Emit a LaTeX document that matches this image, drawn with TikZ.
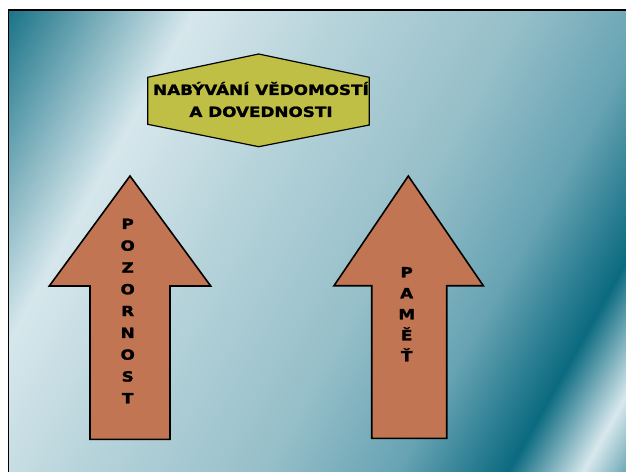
\documentclass[tikz,border=0pt]{standalone}
\usepackage{fontspec}
\newfontfamily\slidefont[FakeStretch=1.2, BoldFeatures={FakeBold=1.6}]{DejaVu Sans}
\usepackage{xcolor}
\definecolor{xteal}{HTML}{0B6A80}
\definecolor{xlight}{HTML}{D6E7EC}
\definecolor{xmist}{HTML}{B6D3DA}
\definecolor{xsea}{HTML}{96BFC9}
\definecolor{xdeep}{HTML}{67A3B3}
\definecolor{xstreak}{HTML}{D8E8ED}
\definecolor{xcorner}{HTML}{4E95A5}
\definecolor{xolive}{HTML}{BFBF45}
\definecolor{xbrick}{HTML}{C17552}
\usepackage{tikz}
\usetikzlibrary{calc}
% slide backdrop, stops at 25bp + 50bp*p/780
\pgfdeclarehorizontalshading{backdrop}{100bp}{
  color(0bp)=(xteal); color(25bp)=(xteal); color(36.2bp)=(xlight);
  color(44.5bp)=(xmist); color(54.5bp)=(xsea); color(62bp)=(xdeep);
  color(68.2bp)=(xteal); color(72.4bp)=(xstreak); color(75.5bp)=(xcorner);
  color(100bp)=(xcorner)}
\tikzset{
  %% Styles %%
  slideframe/.style = {draw=black, line width=1.6pt},
  banner/.style = {fill=xolive, draw=black, line width=1.2pt, line join=miter},
  bigarrow/.style = {fill=xbrick, draw=black, line width=1.6pt, line join=miter},
  caption/.style = {font=\slidefont\bfseries\fontsize{14}{22}\selectfont, align=center, inner sep=0pt},
  letters/.style = {font=\slidefont\bfseries\fontsize{14}{#1}\selectfont, align=center, inner sep=0pt},
}

\begin{document}
\begin{tikzpicture}[x=1pt, y=-1pt]
    \useasboundingbox (0,0) rectangle (626,471);
    \clip (0,0) rectangle (626,471);
    \fill[white] (0,0) rectangle (626,471);

    % backdrop
    \begin{scope}
        \clip (8.5,10) rectangle (640,480);
        \shade[shading=backdrop, transform canvas={rotate=-29.3}] (0,-320) rectangle (780,420);
    \end{scope}
    \draw[slideframe] (8.5,10) rectangle (640,480);

    % title
    \draw[banner] (258.7,54) -- (369.3,77.3) -- (369.3,125) -- (258.7,146.7) -- (147.7,124.3) -- (147.7,77.3) -- cycle;
    \node[caption] (title) at (261,99.5) {NABÝVÁNÍ VĚDOMOSTÍ\\A DOVEDNOSTI};

    % arrows
    \draw[bigarrow] (130,176) -- (210.7,286) -- (170,286) -- (170,439.3) -- (90,439.3) -- (90,286) -- (49.3,286) -- cycle;
    \draw[bigarrow] (408.3,176) -- (483.3,285.7) -- (446.7,285.7) -- (446.7,438.3) -- (371.7,438.3) -- (371.7,285.7) -- (334,285.7) -- cycle;
    \node[letters=21.8] (pozornost) at (127.7,311) {P\\O\\Z\\O\\R\\N\\O\\S\\T};
    \node[letters=21] (pamet) at (406.7,314.2) {P\\A\\M\\Ě\\Ť};
\end{tikzpicture}
\end{document}
